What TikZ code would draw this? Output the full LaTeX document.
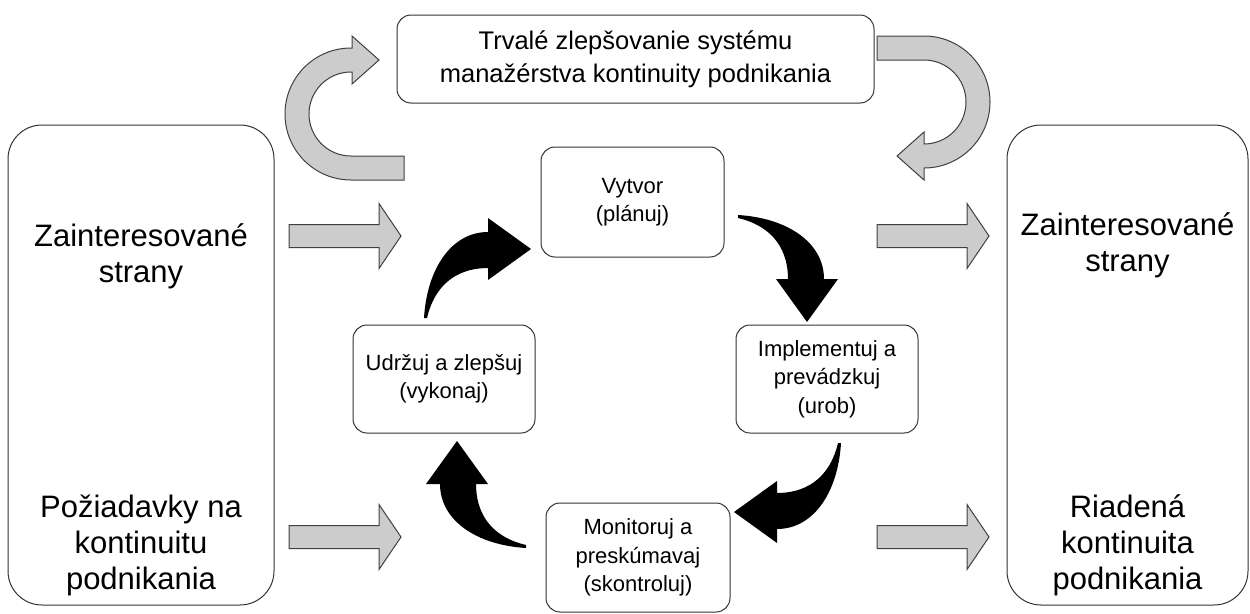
\documentclass[tikz,border=0pt]{standalone}
\usepackage{fontspec}
\setmainfont{Liberation Sans}
\begin{document}
\begin{tikzpicture}[x=1pt,y=-1pt,
  box/.style={draw=black!80, line width=1pt, rounded corners=14pt, fill=white, align=center,
    font=\fontsize{22}{28.5}\selectfont, inner sep=0pt},
  bigbox/.style={draw=black!80, line width=1pt, rounded corners=34pt, inner sep=0pt},
  bigtext/.style={align=center, font=\fontsize{31}{36}\selectfont},
  garrow/.style={fill=black!20, draw=black!75, line width=1pt, line join=miter},
  curvarrow/.pic={\fill[black] (0,0) .. controls (3,-50) and (28,-86) .. (64,-86) -- (64,-100) -- (107,-69)
      -- (64,-38) -- (64,-50) .. controls (38,-50) and (12,-38) .. (3,0) -- cycle;}]
\useasboundingbox (0,0) rectangle (1250,613);

% big boxes
\node[bigbox, minimum width=266pt, minimum height=480pt] (L) at (141,365) {};
\node[bigbox, minimum width=241pt, minimum height=480pt] (R) at (1127.5,365) {};
\node[bigtext] (L1) at (141,256) {Zainteresované\\strany};
\node[bigtext] (L2) at (141,545) {Požiadavky na\\kontinuitu\\podnikania};
\node[bigtext] (R1) at (1127.5,245) {Zainteresované\\strany};
\node[bigtext] (R2) at (1127.5,545) {Riadená\\kontinuita\\podnikania};

% top box
\node[box, font=\fontsize{25.5}{33}\selectfont, minimum width=477pt, minimum height=88pt] (T) at (635.5,59)
  {Trvalé zlepšovanie systému\\manažérstva kontinuity podnikania};

% cycle boxes
\node[box, minimum width=183pt, minimum height=110pt] (P) at (632.5,202) {Vytvor\\(plánuj)};
\node[box, minimum width=182pt, minimum height=108pt] (A) at (444,379) {Udržuj a zlepšuj\\(vykonaj)};
\node[box, minimum width=182pt, minimum height=108pt] (D) at (827,379) {Implementuj a\\prevádzkuj\\(urob)};
\node[box, minimum width=184pt, minimum height=109pt] (C) at (638,557.5) {Monitoruj a\\preskúmavaj\\(skontroluj)};

% black curved arrows
\pic at (424,318) {curvarrow};
\pic[rotate=-90] at (738,215) {curvarrow};
\pic[rotate=180] at (841,443) {curvarrow};
\pic[rotate=90] at (526,548) {curvarrow};

% gray curved arrows
\draw[garrow] (404,156) -- (351,156) arc[start angle=270, end angle=90, radius=42pt]
  -- (352,72) -- (352,84) -- (379,60) -- (352,36) -- (352,48) -- (351,48)
  arc[start angle=90, end angle=270, radius=66pt] -- (404,180) -- cycle;
\draw[garrow] (877,36) -- (924,36) arc[start angle=90, end angle=-90, radius=66pt]
  -- (924,180) -- (897,156) -- (924,132) -- (924,144)
  arc[start angle=-90, end angle=90, radius=42pt] -- (877,60) -- cycle;

% gray straight arrows
\foreach \x/\y in {289/236, 289/537, 877/236, 877/537}{
  \draw[garrow] (\x,\y-11.5) -- (\x+90,\y-11.5) -- (\x+90,\y-32.5) -- (\x+112,\y)
    -- (\x+90,\y+32.5) -- (\x+90,\y+11.5) -- (\x,\y+11.5) -- cycle;
}
\end{tikzpicture}
\end{document}
